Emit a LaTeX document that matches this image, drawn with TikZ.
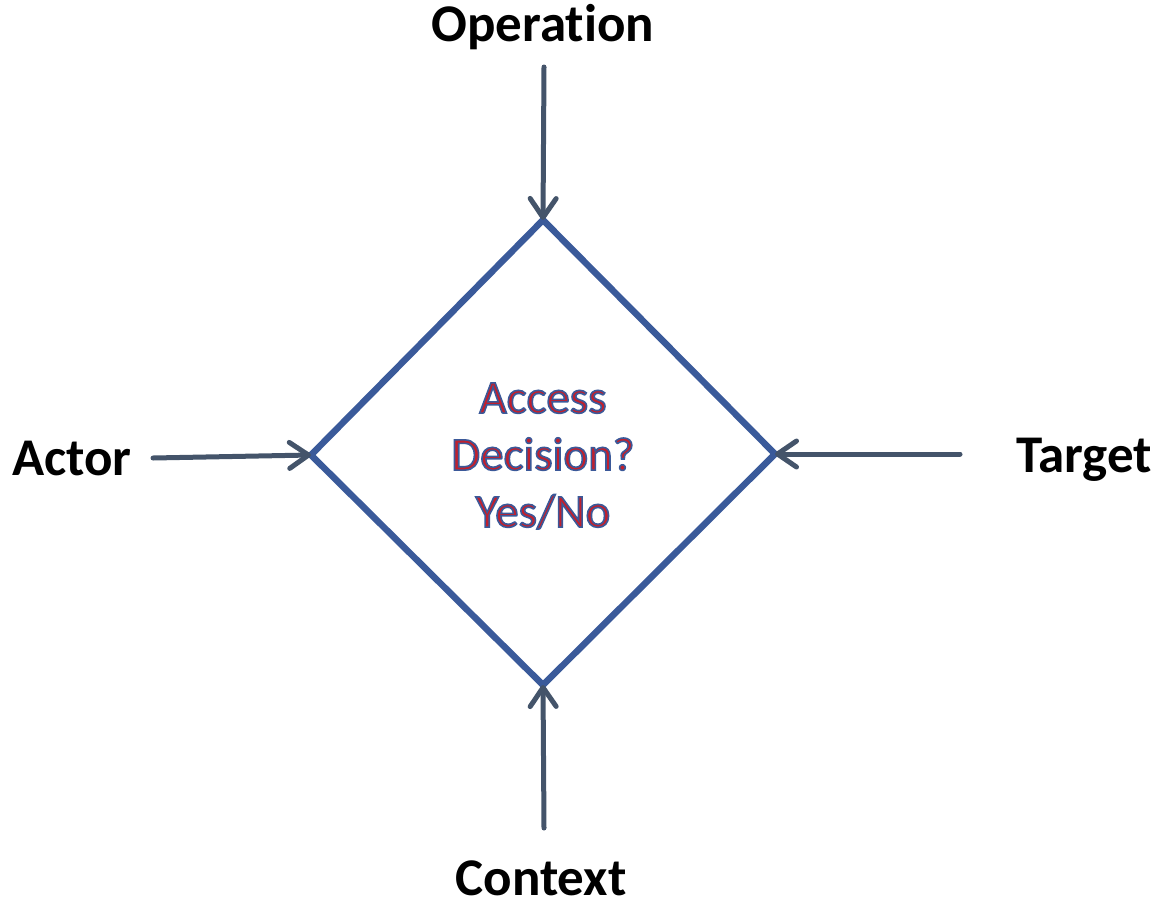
\documentclass[tikz,border=0pt]{standalone}
\usepackage{fontspec}
\setmainfont{Carlito}[Ligatures=NoCommon]
\usetikzlibrary{arrows.meta,shapes.geometric}
\definecolor{dia}{HTML}{3A5A9A}
\definecolor{arr}{HTML}{44546A}
\definecolor{wred}{HTML}{C0202E}
\tikzset{
  lbl/.style={font=\fontsize{53}{60}\selectfont\bfseries, text=black, inner sep=0pt},
  conn/.style={draw=arr, line width=5pt, line cap=round, -{Straight Barb[round, length=19pt, width=26pt, line width=5pt]}},
}
\newcommand{\wordart}[1]{{\color{wred}\special{pdf:literal direct 0.23 0.35 0.6 RG 1.6 w 2 Tr}#1\special{pdf:literal direct 0 Tr}}}
\begin{document}
\begin{tikzpicture}[x=1pt,y=-1pt]
\useasboundingbox (0,0) rectangle (1157,905);
\coordinate (T) at (543,220);
\coordinate (L) at (311,455);
\coordinate (R) at (775,454);
\coordinate (B) at (543,685);
\draw[dia, line width=6.5pt, line join=miter] (T) -- (R) -- (B) -- (L) -- cycle;
\node[inner sep=0pt, align=center, font=\fontsize{47}{57}\selectfont] (c) at (543,456) {\wordart{Access}\\\wordart{Decision?}\\\wordart{Yes/No}};
\node[lbl] (op) at (543,27) {Operation};
\node[lbl] (ac) at (72,459) {Actor};
\node[lbl] (ta) at (1084,460) {Target};
\node[lbl] (co) at (541,878) {Context};
\coordinate (opS) at (544,67);
\coordinate (acS) at (153,458);
\coordinate (taS) at (960,454);
\coordinate (coS) at (544,828);
\draw[conn] (opS) -- (T);
\draw[conn] (acS) -- (L);
\draw[conn] (taS) -- (R);
\draw[conn] (coS) -- (B);
\end{tikzpicture}
\end{document}
